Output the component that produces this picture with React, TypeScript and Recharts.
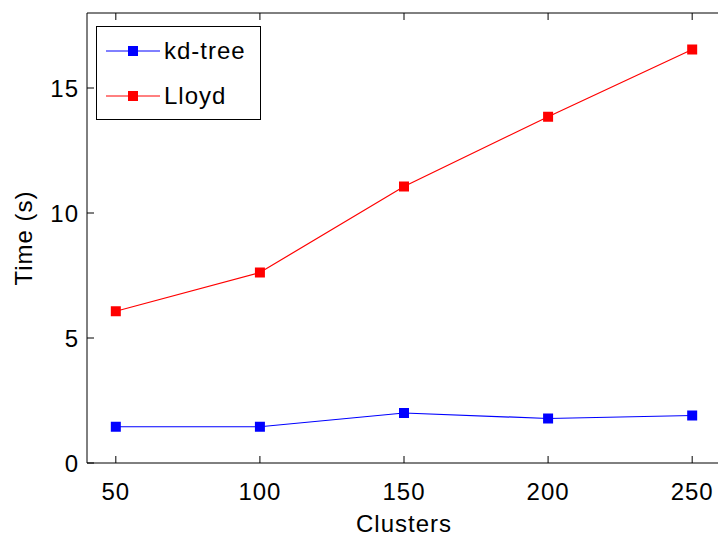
import React from 'react';
import { LineChart, Line, XAxis, YAxis } from 'recharts';

const clusters = [50, 100, 150, 200, 250];
const kdTree = [1.45, 1.45, 2.0, 1.78, 1.9];
const lloyd = [6.07, 7.62, 11.06, 13.85, 16.54];
const xTicks = [50, 100, 150, 200, 250];
const yTicks = [0, 5, 10, 15];
const seriesNames = ['kd-tree', 'Lloyd'];
const seriesColors = ['#0000ff', '#ff0000'];

const data = clusters.map((c, i) => ({ c, kd: kdTree[i], lloyd: lloyd[i] }));

const FONT = '"Liberation Sans", Arial, Helvetica, sans-serif';

const SquareDot = (color: string) => (props: any) => {
  const { cx, cy, key } = props;
  if (cx == null || cy == null) return null;
  return <rect key={key} x={cx - 5} y={cy - 5} width={10} height={10} fill={color} />;
};

const LegendBox = () => (
  <div
    style={{
      position: 'absolute',
      left: 96,
      top: 26,
      width: 165,
      height: 94,
      border: '1px solid #000',
      background: '#fff',
      boxSizing: 'border-box',
      fontFamily: FONT,
      fontSize: 24,
      letterSpacing: 1,
    }}
  >
    {seriesNames.map((name, i) => (
      <div key={name} style={{ position: 'absolute', left: 0, top: (i === 0 ? 24 : 69) - 15, height: 30, width: 160 }}>
        <svg width={60} height={30} style={{ position: 'absolute', left: 9, top: 0 }}>
          <line x1={0} y1={15} x2={54} y2={15} stroke={seriesColors[i]} strokeWidth={1} />
          <rect x={22} y={10} width={10} height={10} fill={seriesColors[i]} />
        </svg>
        <span style={{ position: 'absolute', left: 67, top: 1, lineHeight: '28px', color: '#000' }}>{name}</span>
      </div>
    ))}
  </div>
);

const blank = () => '';

export default function App() {
  return (
    <div style={{ position: 'absolute', left: 0, top: 0, width: 718, height: 538, overflow: 'hidden', background: '#fff' }}>
      <LineChart
        width={740}
        height={538}
        data={data}
        margin={{ top: 12, right: 18, bottom: 0, left: 0 }}
        style={{ fontFamily: FONT, letterSpacing: 1 }}
      >
        <XAxis
          dataKey="c"
          type="number"
          domain={[40, 260]}
          ticks={xTicks}
          xAxisId="b"
          height={75}
          stroke="#000"
          tickSize={-7}
          tickMargin={27}
          tick={{ fill: '#000', fontSize: 24 }}
          label={{ value: 'Clusters', position: 'insideBottom', offset: 6, fill: '#000', fontSize: 24 }}
        />
        <XAxis
          dataKey="c"
          type="number"
          domain={[40, 260]}
          ticks={xTicks}
          xAxisId="t"
          orientation="top"
          height={1}
          stroke="#000"
          tickSize={-7}
          tickFormatter={blank}
        />
        <YAxis
          yAxisId="l"
          type="number"
          domain={[0, 18]}
          ticks={yTicks}
          width={87}
          stroke="#000"
          tickSize={-7}
          tickMargin={15}
          tick={{ fill: '#000', fontSize: 24 }}
          label={{ value: 'Time (s)', angle: -90, position: 'insideLeft', offset: 23, fill: '#000', fontSize: 24, style: { textAnchor: 'middle' } }}
        />
        <YAxis
          yAxisId="r"
          orientation="right"
          type="number"
          domain={[0, 18]}
          ticks={yTicks}
          width={1}
          stroke="#000"
          tickSize={-7}
          tickFormatter={blank}
        />
        <Line
          xAxisId="b"
          yAxisId="l"
          dataKey="kd"
          name={seriesNames[0]}
          stroke={seriesColors[0]}
          strokeWidth={1.2}
          dot={SquareDot(seriesColors[0])}
          activeDot={false}
          isAnimationActive={false}
        />
        <Line
          xAxisId="b"
          yAxisId="l"
          dataKey="lloyd"
          name={seriesNames[1]}
          stroke={seriesColors[1]}
          strokeWidth={1.2}
          dot={SquareDot(seriesColors[1])}
          activeDot={false}
          isAnimationActive={false}
        />
      </LineChart>
      <LegendBox />
    </div>
  );
}
